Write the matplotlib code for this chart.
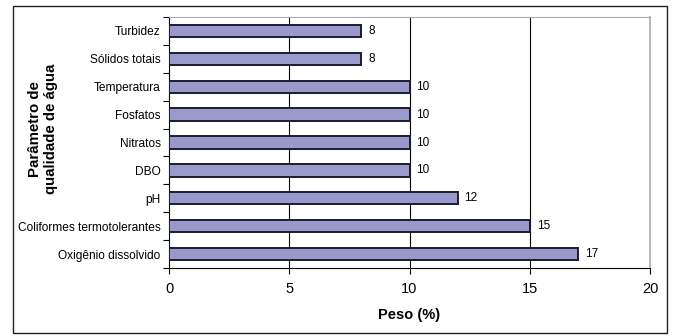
import matplotlib.pyplot as plt
from matplotlib.patches import Rectangle

# dados (de cima para baixo)
parametros = ['Turbidez', 'Sólidos totais', 'Temperatura', 'Fosfatos', 'Nitratos',
              'DBO', 'pH', 'Coliformes termotolerantes', 'Oxigênio dissolvido']
pesos = [8, 8, 10, 10, 10, 10, 12, 15, 17]

plt.rcParams['font.family'] = ['Liberation Sans', 'DejaVu Sans']

fig = plt.figure(figsize=(6.76, 3.36), dpi=100)
ax = fig.add_axes([169/676, 1 - 268/336, (650 - 169)/676, (268 - 17)/336])

# moldura externa
fig.patches.append(Rectangle((13/676, 1 - 333/336), (667 - 13)/676, (333 - 6)/336,
                             transform=fig.transFigure, fill=False, edgecolor='#222222',
                             linewidth=1.0))

ypos = list(range(len(parametros)))[::-1]
barras = ax.barh(ypos, pesos, height=0.44, color='#9999cc', edgecolor='#1c1c30',
                 linewidth=1.4, zorder=3)
ax.bar_label(barras, labels=[str(p) for p in pesos], padding=5, fontsize=8.5)

ax.set_xlim(0, 20)
ax.set_ylim(-0.5, len(parametros) - 0.5)
ax.set_xticks([0, 5, 10, 15, 20])
ax.set_xticklabels(['0', '5', '10', '15', '20'], fontsize=10.5)
ax.set_yticks(ypos)
ax.set_yticklabels(parametros, fontsize=8.6)
ax.set_yticks([i - 0.5 for i in range(len(parametros) + 1)], minor=True)
ax.tick_params(axis='y', which='major', length=0, pad=6)
ax.tick_params(axis='y', which='minor', length=4, width=0.8)
ax.tick_params(axis='x', length=4, width=0.8, pad=6)

for x in [5, 10, 15]:
    ax.axvline(x, color='black', linewidth=0.8, zorder=1)

ax.spines['top'].set_color('#aaaaaa')
ax.spines['right'].set_color('#aaaaaa')
ax.spines['right'].set_linewidth(1.2)
ax.spines['top'].set_linewidth(0.8)
ax.spines['left'].set_linewidth(0.8)
ax.spines['bottom'].set_linewidth(0.8)

ax.set_xlabel('Peso (%)', fontsize=10.5, fontweight='bold', labelpad=9)
fig.text(43/676, 1 - 129/336, 'Parâmetro de\nqualidade de água', rotation=90,
         ha='center', va='center', fontsize=10.8, fontweight='bold', linespacing=1.1)

fig.savefig('out.png', dpi=100)
